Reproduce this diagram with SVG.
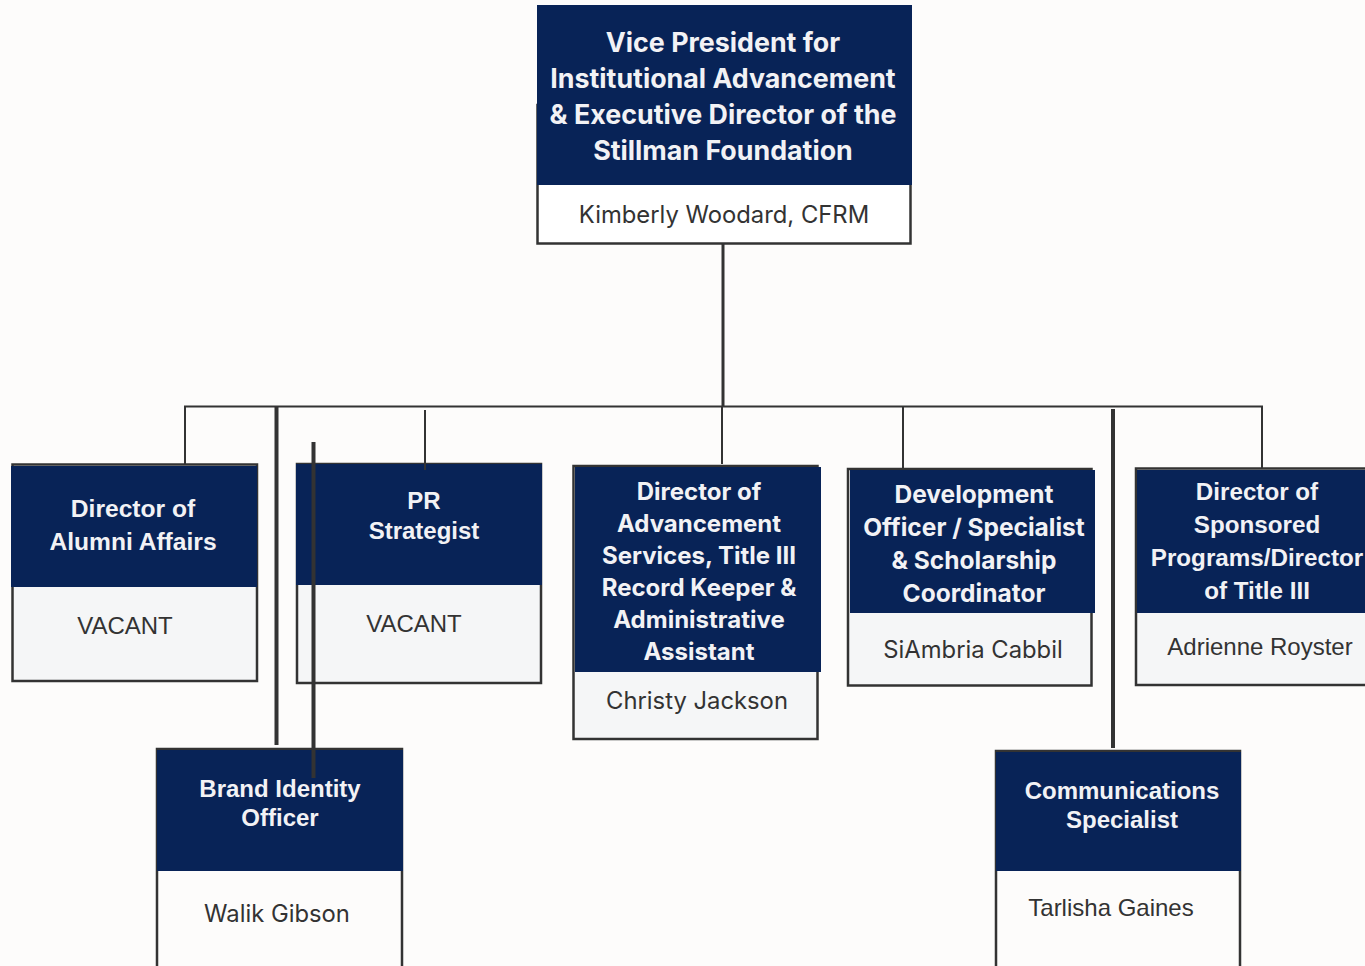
<svg xmlns="http://www.w3.org/2000/svg" width="1365" height="966" viewBox="0 0 1365 966">
<style>
.bg{fill:#FDFCFB}
.hdr{fill:#082357}
.body{fill:#F5F6F7;stroke:#333;stroke-width:2.5}
.bodyw{fill:#FDFCFB;stroke:#333;stroke-width:2.5}
.ti{font-family:Inter,"Liberation Sans",sans-serif;font-weight:700;fill:#F2F2F5;text-anchor:middle}
.ta{font-family:"Liberation Sans",Arial,sans-serif;font-weight:700;fill:#F2F2F5;text-anchor:middle;font-size:24px}
.ni{font-family:Inter,"Liberation Sans",sans-serif;font-size:23.8px;fill:#333;text-anchor:middle}
.na{font-family:"Liberation Sans",Arial,sans-serif;font-size:24px;fill:#333;text-anchor:middle}
.ln{stroke:#333;fill:none;stroke-width:2}
.thick{stroke:#333;fill:none;stroke-width:4}
</style>
<rect class="bg" x="0" y="0" width="1365" height="966"/>
<g id="node-vp">
<rect x="537.5" y="105" width="373" height="138.5" fill="#FFFFFF" stroke="#333" stroke-width="2.5"/>
<rect class="hdr" x="537" y="5" width="375" height="180"/>
<text class="ti" font-size="26.8" x="723" y="51.5">Vice President for</text>
<text class="ti" font-size="26.8" x="723" y="87.5">Institutional Advancement</text>
<text class="ti" font-size="26.8" x="723" y="123.5">&amp; Executive Director of the</text>
<text class="ti" font-size="26.8" x="723" y="159.5">Stillman Foundation</text>
<text class="ni" x="724" y="222.5">Kimberly Woodard, CFRM</text>
</g>
<g id="node-alumni">
<rect class="body" x="12.5" y="464.5" width="244.5" height="216.5"/>
<rect class="hdr" x="11" y="466" width="246" height="121"/>
<text class="ta" x="133" y="517" style="font-size:24.6px">Director of</text>
<text class="ta" x="133" y="550" style="font-size:24.6px">Alumni Affairs</text>
<text class="na" x="125" y="634">VACANT</text>
</g>
<g id="node-pr">
<rect class="body" x="297" y="464" width="244" height="219"/>
<rect class="hdr" x="296" y="464" width="246" height="121"/>
<text class="ta" x="424" y="509">PR</text>
<text class="ta" x="424" y="539">Strategist</text>
<text class="na" x="414" y="632">VACANT</text>
</g>
<g id="node-advancement">
<rect class="body" x="573.5" y="466" width="244" height="273"/>
<rect class="hdr" x="575" y="467" width="246" height="205"/>
<text class="ti" font-size="24" x="699" y="499.5">Director of</text>
<text class="ti" font-size="24" x="699" y="531.5">Advancement</text>
<text class="ti" font-size="24" x="699" y="563.5">Services, Title III</text>
<text class="ti" font-size="24" x="699" y="595.5">Record Keeper &amp;</text>
<text class="ti" font-size="24" x="699" y="627.5">Administrative</text>
<text class="ti" font-size="24" x="699" y="659.5">Assistant</text>
<text class="ni" x="697" y="708.5">Christy Jackson</text>
</g>
<g id="node-development">
<rect class="body" x="848" y="469" width="243.5" height="216.5"/>
<rect class="hdr" x="850" y="470" width="245" height="143"/>
<text class="ti" font-size="24.5" x="974" y="502.5">Development</text>
<text class="ti" font-size="24.5" x="974" y="535.5">Officer / Specialist</text>
<text class="ti" font-size="24.5" x="974" y="568.5">&amp; Scholarship</text>
<text class="ti" font-size="24.5" x="974" y="601.5">Coordinator</text>
<text class="ni" x="973" y="657.5">SiAmbria Cabbil</text>
</g>
<g id="node-sponsored">
<rect class="body" x="1136" y="468.5" width="240" height="216.5"/>
<rect class="hdr" x="1137" y="470" width="230" height="143"/>
<text class="ta" x="1257" y="500" style="font-size:24.2px">Director of</text>
<text class="ta" x="1257" y="533" style="font-size:24.2px">Sponsored</text>
<text class="ta" x="1257" y="566" style="font-size:24.2px">Programs/Director</text>
<text class="ta" x="1257" y="599" style="font-size:24.2px">of Title III</text>
<text class="na" x="1260" y="655">Adrienne Royster</text>
</g>
<g id="node-brand">
<rect class="bodyw" x="157" y="749" width="245" height="240"/>
<rect class="hdr" x="157" y="750" width="246" height="121"/>
<text class="ta" x="280" y="797">Brand Identity</text>
<text class="ta" x="280" y="826">Officer</text>
<text class="ni" x="277" y="921.5">Walik Gibson</text>
</g>
<g id="node-comm">
<rect class="bodyw" x="996" y="751" width="244" height="240"/>
<rect class="hdr" x="996" y="752" width="245" height="119"/>
<text class="ta" x="1122" y="799">Communications</text>
<text class="ta" x="1122" y="828">Specialist</text>
<text class="na" x="1111" y="916">Tarlisha Gaines</text>
</g>
<g id="connectors">
<line class="ln" x1="723" y1="244" x2="723" y2="407" style="stroke-width:3"/>
<line class="ln" x1="184" y1="406.5" x2="1263" y2="406.5"/>
<line class="ln" x1="185" y1="406" x2="185" y2="465"/>
<line class="ln" x1="425" y1="410" x2="425" y2="470"/>
<line class="ln" x1="722" y1="406" x2="722" y2="464"/>
<line class="ln" x1="903" y1="406" x2="903" y2="468"/>
<line class="ln" x1="1262" y1="406" x2="1262" y2="468"/>
<line class="thick" x1="276.5" y1="406" x2="276.5" y2="745"/>
<line class="thick" x1="313.5" y1="442" x2="313.5" y2="778"/>
<line class="thick" x1="1113" y1="409" x2="1113" y2="748"/>
</g>
</svg>
